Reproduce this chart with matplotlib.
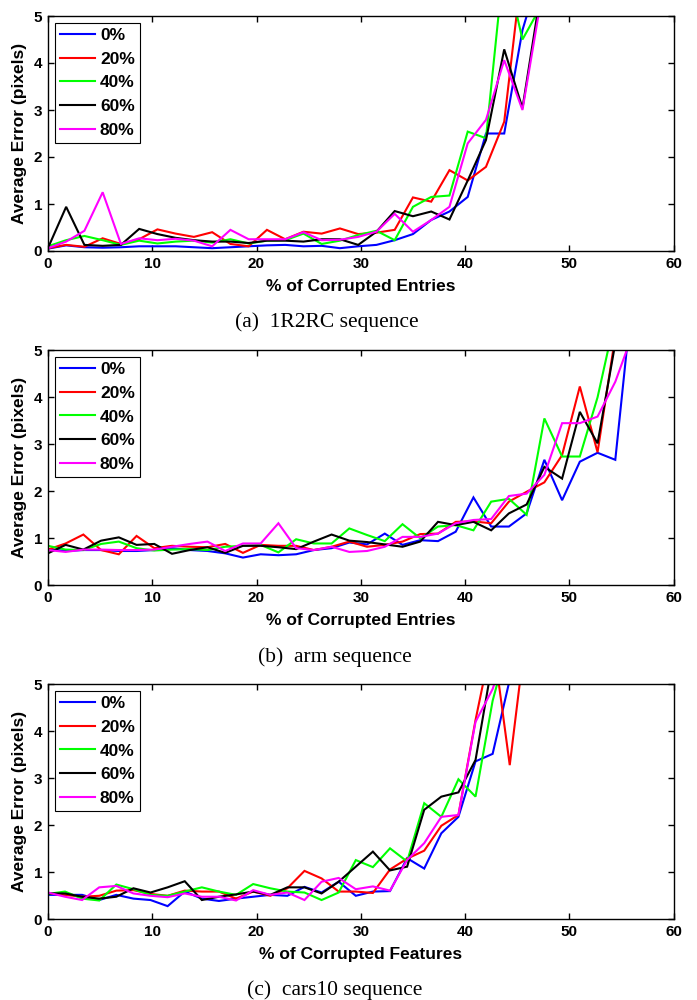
import numpy as np
import matplotlib
matplotlib.use("Agg")
import matplotlib.pyplot as plt

# ---------------- data ----------------
labels = ["0%", "20%", "40%", "60%", "80%"]
colors = ["#0000ff", "#ff0000", "#00ff00", "#000000", "#ff00ff"]

# panel (a) 1R2RC, x step 1.75
step_a = 1.75
a_blue = [0.05, 0.12, 0.08, 0.07, 0.08, 0.10, 0.10, 0.10, 0.08, 0.06, 0.08, 0.10, 0.12, 0.13,
          0.10, 0.11, 0.06, 0.10, 0.13, 0.23, 0.36, 0.66, 0.84, 1.15, 2.50, 2.50, 4.70, 6.0]
a_red = [0.06, 0.13, 0.09, 0.27, 0.15, 0.25, 0.46, 0.37, 0.30, 0.40, 0.15, 0.10, 0.45, 0.25,
         0.41, 0.37, 0.48, 0.36, 0.39, 0.45, 1.14, 1.05, 1.72, 1.50, 1.79, 2.75, 6.1]
a_green = [0.10, 0.23, 0.32, 0.23, 0.13, 0.22, 0.16, 0.20, 0.22, 0.18, 0.25, 0.16, 0.22, 0.23,
           0.37, 0.15, 0.22, 0.34, 0.43, 0.23, 0.94, 1.15, 1.18, 2.54, 2.40, 6.2, 4.50, 5.2]
a_black = [0.06, 0.94, 0.13, 0.11, 0.13, 0.47, 0.36, 0.28, 0.23, 0.20, 0.20, 0.17, 0.22, 0.22,
           0.20, 0.25, 0.25, 0.13, 0.41, 0.85, 0.74, 0.84, 0.67, 1.50, 2.36, 4.29, 3.04, 5.5]
a_magenta = [0.06, 0.20, 0.43, 1.25, 0.15, 0.27, 0.23, 0.26, 0.22, 0.10, 0.45, 0.25, 0.25, 0.25,
             0.40, 0.23, 0.24, 0.30, 0.41, 0.79, 0.41, 0.66, 0.94, 2.29, 2.79, 4.06, 3.00, 5.3]

# panel (b) arm, x step 1.7
step_b = 1.7
b_blue = [0.77, 0.73, 0.75, 0.75, 0.73, 0.73, 0.75, 0.79, 0.75, 0.73, 0.68, 0.59, 0.66, 0.64,
          0.66, 0.75, 0.79, 0.91, 0.87, 1.10, 0.86, 0.96, 0.94, 1.14, 1.87, 1.25, 1.25, 1.53,
          2.67, 1.81, 2.63, 2.82, 2.67, 6.3]
b_red = [0.76, 0.89, 1.08, 0.75, 0.66, 1.05, 0.79, 0.84, 0.82, 0.81, 0.88, 0.69, 0.86, 0.84,
         0.84, 0.75, 0.82, 0.93, 0.82, 0.86, 0.93, 1.09, 1.10, 1.35, 1.36, 1.32, 1.78, 1.99,
         2.19, 2.77, 4.23, 2.83, 5.3]
b_green = [0.84, 0.76, 0.75, 0.88, 0.93, 0.79, 0.74, 0.76, 0.77, 0.75, 0.82, 0.84, 0.86, 0.70,
           0.98, 0.89, 0.89, 1.21, 1.07, 0.94, 1.30, 1.00, 1.25, 1.28, 1.17, 1.78, 1.84, 1.50,
           3.55, 2.74, 2.74, 4.00, 5.7]
b_black = [0.68, 0.86, 0.76, 0.95, 1.02, 0.86, 0.88, 0.67, 0.75, 0.81, 0.69, 0.84, 0.84, 0.81,
           0.77, 0.93, 1.08, 0.95, 0.92, 0.87, 0.82, 0.93, 1.35, 1.28, 1.35, 1.17, 1.53, 1.72,
           2.52, 2.27, 3.69, 3.02, 5.15]
b_magenta = [0.75, 0.71, 0.76, 0.76, 0.75, 0.75, 0.76, 0.82, 0.88, 0.93, 0.73, 0.89, 0.89, 1.32,
             0.79, 0.75, 0.82, 0.71, 0.73, 0.82, 1.03, 1.03, 1.10, 1.32, 1.39, 1.41, 1.90, 1.95,
             2.35, 3.45, 3.45, 3.59, 4.33, 5.37]

# panel (c) cars10, x step 1.64
step_c = 1.64
c_blue = [0.52, 0.52, 0.52, 0.41, 0.52, 0.44, 0.41, 0.28, 0.59, 0.44, 0.39, 0.44, 0.48, 0.52,
          0.50, 0.69, 0.57, 0.80, 0.50, 0.59, 0.60, 1.30, 1.08, 1.83, 2.18, 3.36, 3.52, 5.1]
c_red = [0.55, 0.52, 0.48, 0.50, 0.61, 0.62, 0.54, 0.50, 0.61, 0.59, 0.59, 0.44, 0.59, 0.50,
         0.66, 1.03, 0.87, 0.59, 0.59, 0.56, 1.06, 1.29, 1.46, 1.99, 2.22, 4.24, 6.0, 3.28, 6.25]
c_green = [0.54, 0.59, 0.44, 0.40, 0.74, 0.64, 0.52, 0.50, 0.59, 0.68, 0.59, 0.52, 0.75, 0.66,
           0.59, 0.57, 0.41, 0.57, 1.26, 1.11, 1.51, 1.23, 2.47, 2.18, 2.98, 2.61, 4.65, 6.0]
c_black = [0.55, 0.55, 0.48, 0.44, 0.48, 0.66, 0.57, 0.68, 0.81, 0.41, 0.48, 0.53, 0.59, 0.52,
           0.68, 0.68, 0.55, 0.80, 1.12, 1.44, 1.04, 1.12, 2.33, 2.61, 2.70, 3.39, 5.5]
c_magenta = [0.57, 0.48, 0.41, 0.68, 0.71, 0.55, 0.50, 0.47, 0.55, 0.48, 0.48, 0.40, 0.62, 0.52,
             0.57, 0.41, 0.80, 0.88, 0.64, 0.70, 0.61, 1.26, 1.62, 2.18, 2.22, 4.20, 4.90, 6.0]

panels = [
    (step_a, [a_blue, a_red, a_green, a_black, a_magenta], "% of Corrupted Entries", "(a)  1R2RC sequence"),
    (step_b, [b_blue, b_red, b_green, b_black, b_magenta], "% of Corrupted Entries", "(b)  arm sequence"),
    (step_c, [c_blue, c_red, c_green, c_black, c_magenta], "% of Corrupted Features", "(c)  cars10 sequence"),
]

xticks = [0, 10, 20, 30, 40, 50, 60]
yticks = [0, 1, 2, 3, 4, 5]

# ---------------- figure ----------------
W, H = 697, 1000
fig = plt.figure(figsize=(W / 100, H / 100), dpi=100)

sans = ["Liberation Sans", "DejaVu Sans"]
serif = ["Liberation Serif", "DejaVu Serif"]

left_px, right_px = 47.9, 673.7
tops = [16.0, 350.3, 684.3]
ax_h = 235.0
caption_y = [322, 657, 990]
caption_x = [327, 335, 335]

for (step, series, xlab, cap), top, cy, cx in zip(panels, tops, caption_y, caption_x):
    ax = fig.add_axes([left_px / W, 1 - (top + ax_h) / H, (right_px - left_px) / W, ax_h / H])
    for vals, c, lab in zip(series, colors, labels):
        x = np.arange(len(vals)) * step
        ax.plot(x, vals, color=c, lw=1.5, label=lab, solid_joinstyle="miter")
    ax.set_xlim(0, 60)
    ax.set_ylim(0, 5)
    ax.set_xticks(xticks)
    ax.set_yticks(yticks)
    ax.tick_params(direction="in", top=True, right=True, length=4.5, width=1.0,
                   labelsize=11, pad=4)
    for t in ax.get_xticklabels() + ax.get_yticklabels():
        t.set_fontfamily(sans)
        t.set_fontweight("bold")
    for sp in ax.spines.values():
        sp.set_linewidth(1.0)
    ax.set_xlabel(xlab, fontsize=12.5, fontweight="bold", family=sans, labelpad=6)
    ax.set_ylabel("Average Error (pixels)", fontsize=12.5, fontweight="bold", family=sans, labelpad=5)
    leg = ax.legend(loc="upper left", bbox_to_anchor=(0.011, 0.972), borderaxespad=0,
                    fancybox=False, framealpha=1, edgecolor="black",
                    prop={"family": sans, "weight": "bold", "size": 12.5},
                    handlelength=2.0, handletextpad=0.3, labelspacing=0.49,
                    borderpad=0.3)
    leg.get_frame().set_linewidth(0.8)
    fig.text(cx / W, 1 - cy / H, cap, ha="center", va="center",
             fontsize=15.5, family=serif)

fig.savefig("out.png", dpi=100)
